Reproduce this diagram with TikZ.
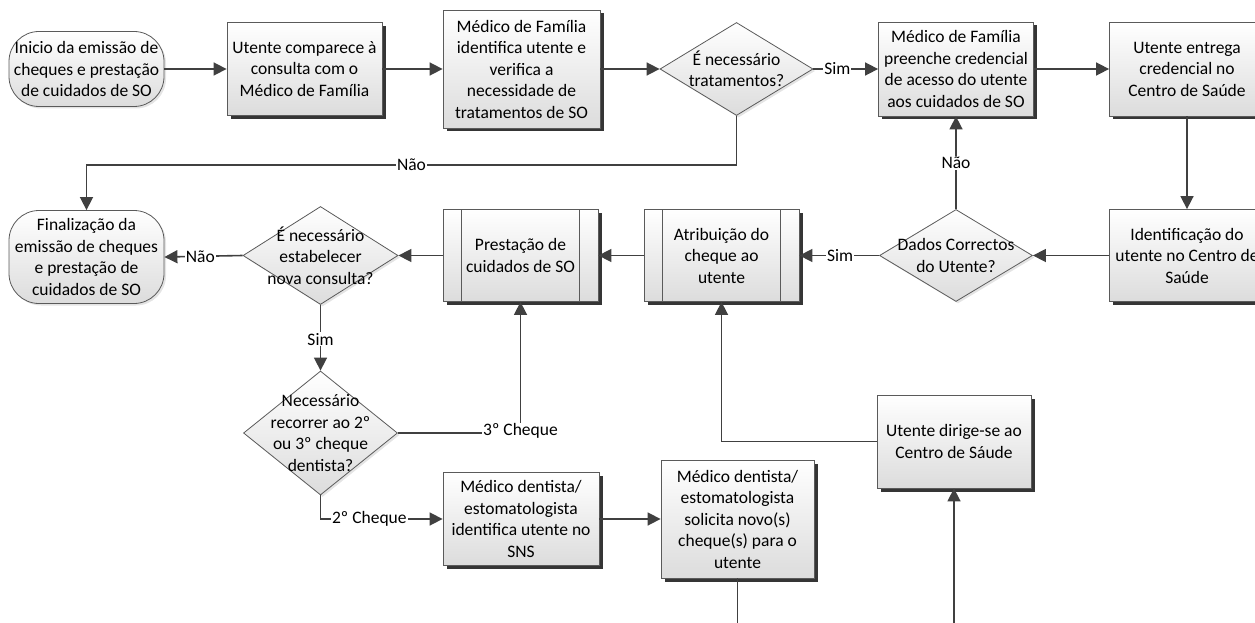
\documentclass[tikz,border=0pt]{standalone}
\usepackage{fontspec}
\setmainfont{Carlito}
\usetikzlibrary{shapes.geometric,shadows,arrows.meta}
\definecolor{linec}{HTML}{404040}
\definecolor{boxline}{HTML}{5A5A5A}
\definecolor{fillbot}{HTML}{DCDCDC}
\definecolor{shadowc}{HTML}{353535}
\definecolor{softshadow}{HTML}{E4E4E4}
\newcommand{\fs}{\fontsize{17.5}{21.5}\selectfont}
\tikzset{
  shaded/.style={draw=boxline, line width=0.8pt, top color=white, bottom color=fillbot},
  proc/.style={shaded, rectangle, align=center, inner sep=0pt, font=\fs,
    drop shadow={shadow xshift=3.5pt, shadow yshift=-3.5pt, fill=shadowc, opacity=1}},
  term/.style={shaded, rectangle, rounded corners=30pt, align=center, inner sep=0pt, font=\fs,
    drop shadow={shadow xshift=2pt, shadow yshift=-2pt, fill=softshadow, opacity=1}},
  decision/.style={shaded, diamond, inner sep=0pt,
    drop shadow={shadow xshift=2pt, shadow yshift=-2pt, fill=softshadow, opacity=1}},
  dtext/.style={align=center, font=\fs, inner sep=0pt},
  flow/.style={draw=linec, line width=1.6pt, -{Triangle[length=13pt,width=13pt]}},
  plain/.style={draw=linec, line width=1.6pt},
  lbl/.style={fill=white, inner sep=1pt, font=\fs, text=black},
  inner/.style={draw=boxline, line width=0.8pt}
}
\begin{document}
\begin{tikzpicture}[x=1pt, y=-1pt]
\clip (0,0) rectangle (1255,623);

% top row
\node[term, minimum width=155pt, minimum height=75pt] (start) at (86.5,69)
  {Inicio da emissão de\\cheques e prestação\\de cuidados de SO};
\node[proc, minimum width=155pt, minimum height=93pt] (comp) at (304.5,69)
  {Utente comparece à\\consulta com o\\Médico de Família};
\node[proc, minimum width=157pt, minimum height=118pt] (idf) at (521.5,69)
  {Médico de Família\\identifica utente e\\verifica a\\necessidade de\\tratamentos de SO};
\node[decision, minimum width=153pt, minimum height=93pt,
  label={[dtext]center:{É necessário\\tratamentos?}}] (dec1) at (736.5,69) {};
\node[proc, minimum width=155pt, minimum height=94pt] (pre) at (956,69)
  {Médico de Família\\preenche credencial\\de acesso do utente\\aos cuidados de SO};
\node[proc, minimum width=155pt, minimum height=94pt] (ent) at (1187,69)
  {Utente entrega\\credencial no\\Centro de Saúde};

% middle row
\node[proc, minimum width=155pt, minimum height=92pt] (ide) at (1187,255.5)
  {Identificação do\\utente no Centro de\\Saúde};
\node[decision, minimum width=153pt, minimum height=92pt,
  label={[dtext]center:{Dados Correctos\\do Utente?}}] (dados) at (956,255.5) {};
\node[proc, minimum width=155pt, minimum height=92pt] (atr) at (721.5,255.5)
  {Atribuição do\\cheque ao\\utente};
\node[proc, minimum width=155pt, minimum height=92pt] (pst) at (520.5,255.5)
  {Prestação de\\cuidados de SO};
\node[decision, minimum width=155pt, minimum height=98pt,
  label={[dtext]center:{É necessário\\estabelecer\\nova consulta?}}] (dec2) at (320.5,255.5) {};
\node[term, minimum width=155pt, minimum height=93pt] (fin) at (86.5,257)
  {Finalização da\\emissão de cheques\\e prestação de\\cuidados de SO};

% sub-process side bars
\draw[inner] ([xshift=19pt]atr.north west) -- ([xshift=19pt]atr.south west);
\draw[inner] ([xshift=-19pt]atr.north east) -- ([xshift=-19pt]atr.south east);
\draw[inner] ([xshift=19pt]pst.north west) -- ([xshift=19pt]pst.south west);
\draw[inner] ([xshift=-19pt]pst.north east) -- ([xshift=-19pt]pst.south east);

% lower part
\node[decision, minimum width=154pt, minimum height=124pt,
  label={[dtext]center:{Necessário\\recorrer ao 2º\\ou 3º cheque\\dentista?}}] (dec3) at (320.5,433) {};
\node[proc, minimum width=156pt, minimum height=93pt] (den) at (521,519)
  {Médico dentista/\\estomatologista\\identifica utente no\\SNS};
\node[proc, minimum width=153pt, minimum height=118pt] (sol) at (737.5,519)
  {Médico dentista/\\estomatologista\\solicita novo(s)\\cheque(s) para o\\utente};
\node[proc, minimum width=154pt, minimum height=93pt] (dir) at (954,441.5)
  {Utente dirige-se ao\\Centro de Sáude};

\coordinate (outsol) at (737.5,640);
\coordinate (outdir) at (954,640);

% connectors
\draw[flow] (start) -- (comp);
\draw[flow] (comp) -- (idf);
\draw[flow] (idf) -- (dec1);
\draw[flow] (dec1.east) -- node[lbl, pos=0.37] {Sim} (pre.west);
\draw[flow] (pre) -- (ent);
\draw[flow] (ent) -- (ide);
\draw[flow] (ide) -- (dados.east);
\draw[flow] (dados.north) -- node[lbl] {Não} (pre.south);
\draw[flow] (dados.west) -- node[lbl, pos=0.49] {Sim} (atr.east);
\draw[flow] (atr) -- (pst);
\draw[flow] (pst) -- (dec2.east);
\draw[flow] (dec2.west) -- node[lbl, pos=0.54] {Não} (fin.east);
\draw[flow] (dec1.south) -- ++(0,49) -| node[lbl, pos=0.25] {Não} (fin.north);
\draw[flow] (dec2.south) -- node[lbl, pos=0.52] {Sim} (dec3.north);
\draw[flow] (dec3.east) -| node[lbl, pos=0.5, yshift=2pt] {3º Cheque} (pst.south);
\draw[flow] (dec3.south) |- node[lbl, pos=0.7] {2º Cheque} (den.west);
\draw[flow] (den) -- (sol);
\draw[plain] (sol.south) -- (outsol);
\draw[flow] (outdir) -- (dir.south);
\draw[flow] (dir.west) -| (atr.south);
\end{tikzpicture}
\end{document}
